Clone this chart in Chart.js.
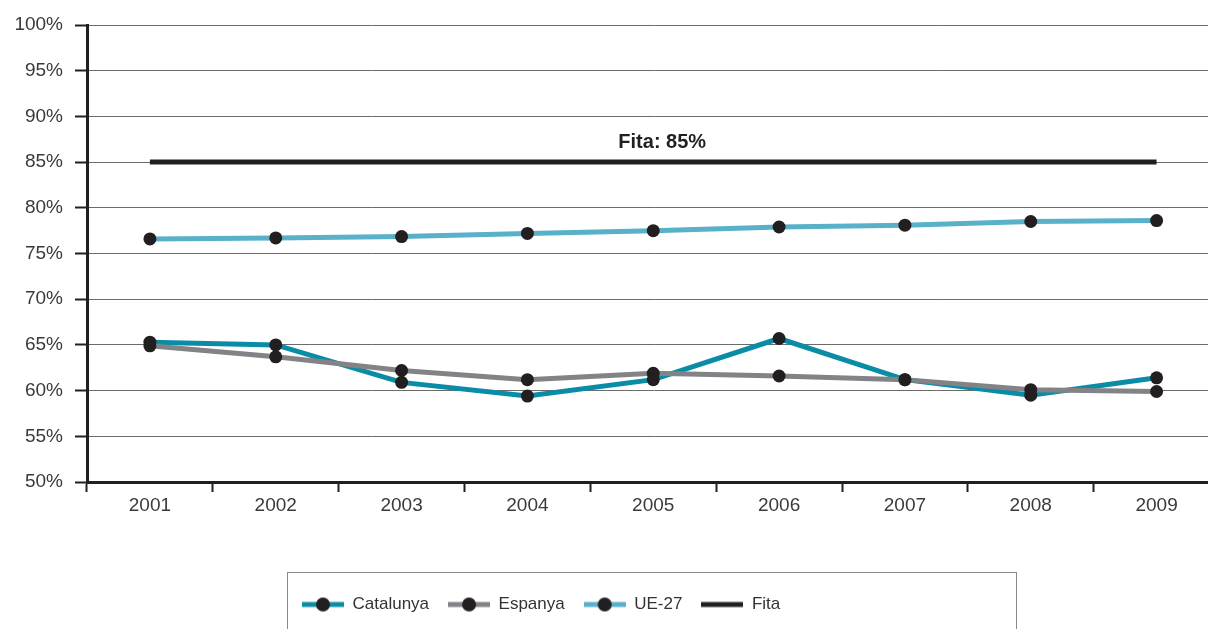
<!DOCTYPE html>
<html>
<head>
<meta charset="utf-8">
<script src="https://cdn.jsdelivr.net/npm/chart.js@4.4.0/dist/chart.umd.min.js"></script>
<style>
  html, body { margin: 0; padding: 0; background: #fff; overflow: hidden; }
  #wrap { width: 1226px; height: 629px; }
</style>
</head>
<body>
<div id="wrap"><canvas id="chart" width="1226" height="629"></canvas></div>
<script>
// --- Dades ---
const years = ['2001', '2002', '2003', '2004', '2005', '2006', '2007', '2008', '2009'];
const catalunya = [65.3, 65.0, 60.9, 59.4, 61.2, 65.7, 61.2, 59.5, 61.4];
const espanya = [64.9, 63.7, 62.2, 61.2, 61.9, 61.6, 61.2, 60.1, 59.9];
const ue27 = [76.6, 76.7, 76.85, 77.2, 77.5, 77.9, 78.1, 78.5, 78.6];
const fita = [85, 85, 85, 85, 85, 85, 85, 85, 85];
const fitaLabel = 'Fita: 85%';

const INK = '#231f20';
const colCat = '#0b8ca6';
const colEsp = '#828287';
const colUE = '#58b0c9';
const fontFamily = '"Liberation Sans", Arial, sans-serif';

// icones de la llegenda: linia + punt
function legendIcon(color, withDot) {
    const c = document.createElement('canvas');
    c.width = 42; c.height = 16;
    const g = c.getContext('2d');
    g.strokeStyle = color;
    g.lineWidth = 5;
    g.beginPath();
    g.moveTo(0, 8); g.lineTo(42, 8);
    g.stroke();
    if (withDot) {
        g.fillStyle = INK;
        g.beginPath();
        g.arc(21, 8, 7, 0, Math.PI * 2);
        g.fill();
    }
    return c;
}
const icons = [legendIcon(colCat, true), legendIcon(colEsp, true), legendIcon(colUE, true), legendIcon(INK, false)];

// marc de la llegenda + etiqueta de la fita
const extras = {
    id: 'extras',
    afterLayout(chart) {
        const lg = chart.legend;
        if (lg) { lg.left = 283; }
    },
    afterDatasetsDraw(chart) {
        const meta = chart.getDatasetMeta(3);
        const y = chart.scales.y.getPixelForValue(fita[0]);
        const x0 = meta.data[0].x, x1 = meta.data[meta.data.length - 1].x;
        const ctx = chart.ctx;
        ctx.save();
        ctx.font = 'bold 20px ' + fontFamily;
        ctx.fillStyle = INK;
        ctx.textAlign = 'center';
        ctx.textBaseline = 'alphabetic';
        ctx.fillText(fitaLabel, (x0 + x1) / 2 + 9, y - 14);
        ctx.restore();
    },
    afterDraw(chart) {
        const lg = chart.legend;
        const ctx = chart.ctx;
        ctx.save();
        ctx.strokeStyle = '#8a8a8a';
        ctx.lineWidth = 1;
        ctx.strokeRect(lg.left + 4.5, chart.chartArea.bottom + 90.5, 729, 80);
        ctx.restore();
    }
};

const pointOpts = { pointRadius: 6.5, pointHoverRadius: 6.5, pointBackgroundColor: INK, pointBorderWidth: 0, pointBorderColor: INK };

const ctx = document.getElementById('chart').getContext('2d');
const chart = new Chart(ctx, {
    type: 'line',
    data: {
        labels: years,
        datasets: [{
            label: 'Catalunya',
            data: catalunya,
            borderColor: colCat,
            borderWidth: 5,
            order: 2,
            ...pointOpts
        }, {
            label: 'Espanya',
            data: espanya,
            borderColor: colEsp,
            borderWidth: 5,
            order: 1,
            ...pointOpts
        }, {
            label: 'UE-27',
            data: ue27,
            borderColor: colUE,
            borderWidth: 5,
            order: 3,
            ...pointOpts
        }, {
            label: 'Fita',
            data: fita,
            borderColor: INK,
            borderWidth: 5,
            borderCapStyle: 'butt',
            pointRadius: 0,
            pointHoverRadius: 0,
            order: 4
        }]
    },
    options: {
        responsive: false,
        animation: false,
        layout: { padding: { top: 25, right: 2, left: 0, bottom: 6 } },
        elements: {
            line: { tension: 0 }
        },
        plugins: {
            tooltip: { enabled: false },
            legend: {
                position: 'bottom',
                align: 'start',
                labels: {
                    usePointStyle: true,
                    pointStyleWidth: 42,
                    padding: 19,
                    color: '#333',
                    font: { family: fontFamily, size: 17 },
                    generateLabels(chart) {
                        return chart.data.datasets.map((ds, i) => ({
                            text: ds.label,
                            pointStyle: icons[i],
                            datasetIndex: i,
                            hidden: false,
                            fontColor: '#333',
                            lineWidth: 0,
                            strokeStyle: 'rgba(0,0,0,0)',
                            fillStyle: 'rgba(0,0,0,0)'
                        }));
                    }
                }
            }
        },
        scales: {
            x: {
                offset: true,
                afterFit(scale) { scale.height = 95; },
                grid: {
                    offset: true,
                    drawOnChartArea: false,
                    tickLength: 10,
                    tickColor: INK,
                    tickWidth: 2
                },
                border: { display: true, color: INK, width: 3 },
                ticks: { color: '#3a3a3a', padding: 2, font: { family: fontFamily, size: 19 } }
            },
            y: {
                min: 50,
                max: 100,
                afterFit(scale) { scale.width = 87; },
                grid: {
                    color: '#6b6b6b',
                    lineWidth: 1,
                    tickLength: 12,
                    tickColor: INK,
                    tickWidth: 2
                },
                border: { display: true, color: INK, width: 3 },
                ticks: {
                    stepSize: 5,
                    padding: 12,
                    color: '#3a3a3a',
                    font: { family: fontFamily, size: 19 },
                    callback: (v) => v + '%'
                }
            }
        }
    },
    plugins: [extras]
});
</script>
</body>
</html>
